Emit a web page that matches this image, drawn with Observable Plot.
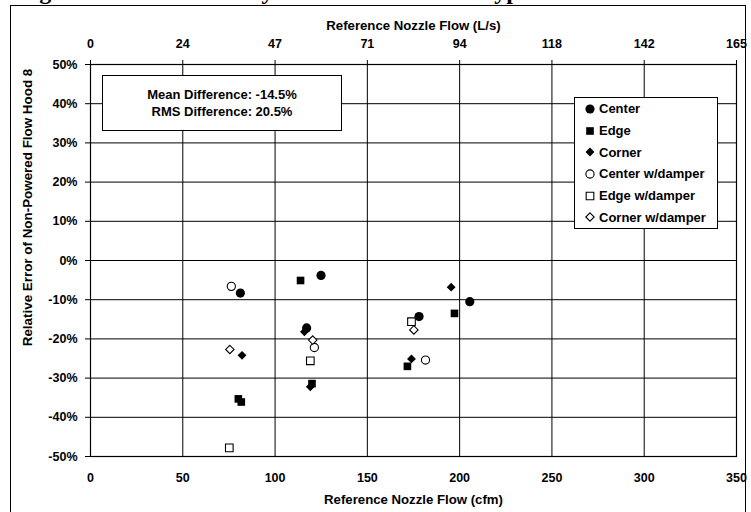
<!DOCTYPE html>
<html>
<head>
<meta charset="utf-8">
<script src="https://cdn.jsdelivr.net/npm/d3@7"></script>
<script src="https://cdn.jsdelivr.net/npm/@observablehq/plot@0.6"></script>
<style>
  html, body { margin: 0; padding: 0; background: #fff; overflow: hidden; }
  #wrap { position: relative; width: 751px; height: 512px; overflow: hidden; font-family: "Liberation Sans", Arial, sans-serif; font-weight: bold; color: #000; }
  #title { position: absolute; left: 18px; top: -21px; font-family: "Liberation Serif", "Times New Roman", serif; font-weight: bold; font-size: 24px; line-height: 24px; white-space: nowrap; }
  #outer { position: absolute; left: 10px; top: 5px; width: 736px; height: 530px; border: 1px solid #000; box-sizing: border-box; }
  #chart { position: absolute; left: 0; top: 0; }
  #stats { position: absolute; left: 102px; top: 75px; width: 240px; height: 56px; border: 1px solid #000; background: #fff; box-sizing: border-box; font-size: 13px; text-align: center; display: flex; flex-direction: column; justify-content: center; line-height: 17.5px; }
  #legend { position: absolute; left: 574px; top: 97px; width: 144px; height: 132px; border: 1px solid #000; background: #fff; box-sizing: border-box; font-size: 13px; padding-top: 0px; }
  #legend .row { height: 21.7px; display: flex; align-items: center; white-space: nowrap; }
  #legend svg { margin-left: 9px; margin-right: 3px; }
</style>
</head>
<body>
<div id="wrap">
  <div id="title">Figure 8. Hood Accuracy with and without a Bypass</div>
  <div id="outer"></div>
  <div id="chart"></div>
  <div id="stats"><div></div><div></div></div>
  <div id="legend"></div>
</div>
<script>
// ---- data ----
const seriesNames = ["Center", "Edge", "Corner", "Center w/damper", "Edge w/damper", "Corner w/damper"];

// Reference nozzle flow (cfm) and relative error (%)
const centerX = [81.2, 124.9, 117.1, 178.0, 205.5];
const centerY = [-8.3, -3.8, -17.2, -14.3, -10.5];

const edgeX = [80.1, 81.7, 113.8, 120.0, 171.7, 197.2];
const edgeY = [-35.3, -36.1, -5.1, -31.4, -27.0, -13.5];

const cornerX = [82.1, 115.9, 119.1, 173.9, 195.4];
const cornerY = [-24.2, -18.2, -32.2, -25.1, -6.8];

const centerDamperX = [76.3, 121.3, 181.5];
const centerDamperY = [-6.6, -22.2, -25.4];

const edgeDamperX = [119.1, 173.9, 75.2];
const edgeDamperY = [-25.6, -15.6, -47.8];

const cornerDamperX = [75.5, 120.4, 175.2];
const cornerDamperY = [-22.7, -20.3, -17.7];

// axis ticks
const cfmTicks = [0, 50, 100, 150, 200, 250, 300, 350];
const lsTickLabels = ["0", "24", "47", "71", "94", "118", "142", "165"];
const pctTicks = [-50, -40, -30, -20, -10, 0, 10, 20, 30, 40, 50];

const xTitleBottom = "Reference Nozzle Flow (cfm)";
const xTitleTop = "Reference Nozzle Flow (L/s)";
const yTitle = "Relative Error of Non-Powered Flow Hood 8";

const meanDiff = "-14.5%";
const rmsDiff = "20.5%";

// ---- build ----
const seriesData = [
  [centerX, centerY], [edgeX, edgeY], [cornerX, cornerY],
  [centerDamperX, centerDamperY], [edgeDamperX, edgeDamperY], [cornerDamperX, cornerDamperY]
];
const styles = [
  {symbol: "circle", fill: "black", stroke: "none", r: 4.6},
  {symbol: "square", fill: "black", stroke: "none", r: 4.3},
  {symbol: "diamond2", fill: "black", stroke: "none", r: 4.0},
  {symbol: "circle", fill: "white", stroke: "black", r: 4.1},
  {symbol: "square", fill: "white", stroke: "black", r: 4.3},
  {symbol: "diamond2", fill: "white", stroke: "black", r: 3.8}
];
const rows = [];
seriesData.forEach(([xs, ys], s) => xs.forEach((x, i) => rows.push({series: seriesNames[s], x, y: ys[i]})));

const dotMarks = seriesNames.map((name, s) =>
  Plot.dot(rows.filter(d => d.series === name), {
    x: "x", y: "y", symbol: () => styles[s].symbol, r: styles[s].r,
    fill: styles[s].fill, stroke: styles[s].stroke, strokeWidth: 1.1
  })
);

const chart = Plot.plot({
  width: 751,
  height: 512,
  marginLeft: 90,
  marginRight: 15,
  marginTop: 64,
  marginBottom: 56,
  style: {fontFamily: "'Liberation Sans', Arial, sans-serif", fontWeight: "bold", fontSize: "12.5px", background: "transparent", color: "black"},
  x: {domain: [0, 350]},
  y: {domain: [-50, 50]},
  symbol: {type: "identity"},
  marks: [
    Plot.gridX(cfmTicks, {stroke: "black", strokeOpacity: 1, strokeWidth: 1}),
    Plot.gridY(pctTicks, {stroke: "black", strokeOpacity: 1, strokeWidth: 1}),
    Plot.frame({stroke: "black", strokeWidth: 1.2}),
    Plot.axisX(cfmTicks, {anchor: "bottom", tickSize: 0, tickPadding: 17, label: null, fontSize: 12.5}),
    Plot.axisX(cfmTicks, {anchor: "top", tickSize: 5, tickPadding: 12, tickFormat: (d, i) => lsTickLabels[i], label: null, fontSize: 12.5}),
    Plot.axisY(pctTicks, {anchor: "left", tickSize: 5, tickPadding: 8, tickFormat: d => d + "%", label: null, fontSize: 12.5}),
    Plot.text([xTitleBottom], {frameAnchor: "bottom", dy: 47, fontSize: 13.2, fontWeight: "bold"}),
    Plot.text([xTitleTop], {frameAnchor: "top", dy: -44, fontSize: 13.2, fontWeight: "bold"}),
    Plot.text([yTitle], {frameAnchor: "left", textAnchor: "middle", dx: -62.5, dy: -53, rotate: -90, fontSize: 13.4, fontWeight: "bold"}),
    ...dotMarks
  ]
});
document.getElementById("chart").appendChild(chart);

document.querySelector("#stats div:nth-child(1)").textContent = "Mean Difference: " + meanDiff;
document.querySelector("#stats div:nth-child(2)").textContent = "RMS Difference: " + rmsDiff;

// legend
const legend = document.getElementById("legend");
seriesNames.forEach((name, s) => {
  const st = styles[s];
  const row = document.createElement("div");
  row.className = "row";
  const svg = d3.create("svg").attr("width", 12).attr("height", 12);
  const sym = st.symbol === "circle" ? d3.symbolCircle : st.symbol === "square" ? d3.symbolSquare : d3.symbolDiamond2;
  svg.append("path")
    .attr("transform", "translate(6,6)")
    .attr("d", d3.symbol(sym, st.r * st.r * Math.PI)())
    .attr("fill", st.fill).attr("stroke", st.stroke).attr("stroke-width", 1.1);
  row.appendChild(svg.node());
  const t = document.createElement("span");
  t.textContent = name;
  row.appendChild(t);
  legend.appendChild(row);
});
</script>
</body>
</html>
